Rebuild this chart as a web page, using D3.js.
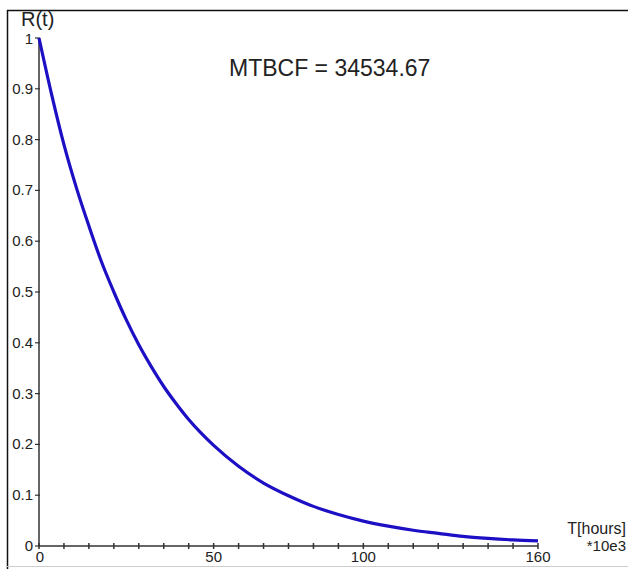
<!DOCTYPE html>
<html>
<head>
<meta charset="utf-8">
<script src="https://cdn.jsdelivr.net/npm/d3@7"></script>
<style>
  html, body { margin: 0; padding: 0; background: #fff; }
  svg { display: block; }
  text { font-family: "Liberation Sans", Arial, sans-serif; fill: #222; }
</style>
</head>
<body>
<svg id="chart" width="628" height="569"></svg>
<script>
// ---- data ----
const tValues = [0, 4, 8, 12, 16, 20, 24, 28, 32, 36, 40, 44, 48, 52, 56, 64, 72, 80, 88, 96, 104, 112, 120, 128, 136, 144, 152, 160];
const rValues = [1.00, 0.89, 0.79, 0.705, 0.63, 0.56, 0.50, 0.445, 0.396, 0.353, 0.314, 0.28, 0.249, 0.222, 0.198, 0.157, 0.124, 0.099, 0.078, 0.062, 0.049, 0.039, 0.031, 0.025, 0.019, 0.015, 0.012, 0.010];
const xTickValues = d3.range(0, 161, 8);
const xTickLabels = ["0", "50", "100", "160"];
const xTickLabelAt = [0, 56, 104, 160];
const yTickValues = [0, 0.1, 0.2, 0.3, 0.4, 0.5, 0.6, 0.7, 0.8, 0.9, 1];
const yTickLabels = ["0", "0.1", "0.2", "0.3", "0.4", "0.5", "0.6", "0.7", "0.8", "0.9", "1"];
const titleText = "MTBCF = 34534.67";
const yTitle = "R(t)";
const xTitle1 = "T[hours]";
const xTitle2 = "*10e3";

// ---- layout ----
const svg = d3.select("#chart");
const x = d3.scaleLinear().domain([0, 160]).range([39, 538]);
const y = d3.scaleLinear().domain([0, 1]).range([546, 38]);

// frame
svg.append("line").attr("x1", 7.5).attr("x2", 7.5).attr("y1", 10).attr("y2", 569)
  .attr("stroke", "#111").attr("stroke-width", 1.5);
svg.append("line").attr("x1", 7).attr("x2", 628).attr("y1", 10.5).attr("y2", 10.5)
  .attr("stroke", "#111").attr("stroke-width", 1.5);
svg.append("line").attr("x1", 7).attr("x2", 628).attr("y1", 566.5).attr("y2", 566.5)
  .attr("stroke", "#ccc").attr("stroke-width", 1);

// axes lines
svg.append("line").attr("x1", x(0)).attr("x2", x(0)).attr("y1", y(0)).attr("y2", y(1))
  .attr("stroke", "#333").attr("stroke-width", 1.5);
svg.append("line").attr("x1", x(0)).attr("x2", x(160)).attr("y1", y(0)).attr("y2", y(0))
  .attr("stroke", "#333").attr("stroke-width", 1.5);

// x ticks
svg.selectAll(".xt").data(xTickValues).enter().append("line")
  .attr("x1", d => x(d)).attr("x2", d => x(d))
  .attr("y1", y(0) - 3).attr("y2", y(0) + 3)
  .attr("stroke", "#333").attr("stroke-width", 1.5);
// y ticks
svg.selectAll(".yt").data(yTickValues).enter().append("line")
  .attr("x1", x(0) - 4).attr("x2", x(0) + 1)
  .attr("y1", d => y(d)).attr("y2", d => y(d))
  .attr("stroke", "#333").attr("stroke-width", 1.2);

// x tick labels
svg.selectAll(".xl").data(xTickLabels).enter().append("text")
  .attr("x", (d, i) => x(xTickLabelAt[i]) + (i === 0 ? 1 : 0))
  .attr("y", 562)
  .attr("text-anchor", "middle")
  .attr("font-size", 15)
  .text(d => d);

// y tick labels
svg.selectAll(".yl").data(yTickLabels).enter().append("text")
  .attr("x", 33)
  .attr("y", (d, i) => y(yTickValues[i]) + 5 + (i === yTickLabels.length - 1 ? 1 : 0))
  .attr("text-anchor", "end")
  .attr("font-size", 15)
  .text(d => d);

// curve
const line = d3.line().x((d, i) => x(tValues[i])).y(d => y(d)).curve(d3.curveMonotoneX);
svg.append("path").datum(rValues).attr("d", line)
  .attr("fill", "none").attr("stroke", "#1c0fc4").attr("stroke-width", 3.2);

// titles
svg.append("text").attr("x", 229).attr("y", 76).attr("font-size", 23).text(titleText);
svg.append("text").attr("x", 21).attr("y", 26).attr("font-size", 20).text(yTitle);
svg.append("text").attr("x", 626).attr("y", 534).attr("text-anchor", "end").attr("font-size", 16).text(xTitle1);
svg.append("text").attr("x", 626).attr("y", 551).attr("text-anchor", "end").attr("font-size", 15).text(xTitle2);
</script>
</body>
</html>
